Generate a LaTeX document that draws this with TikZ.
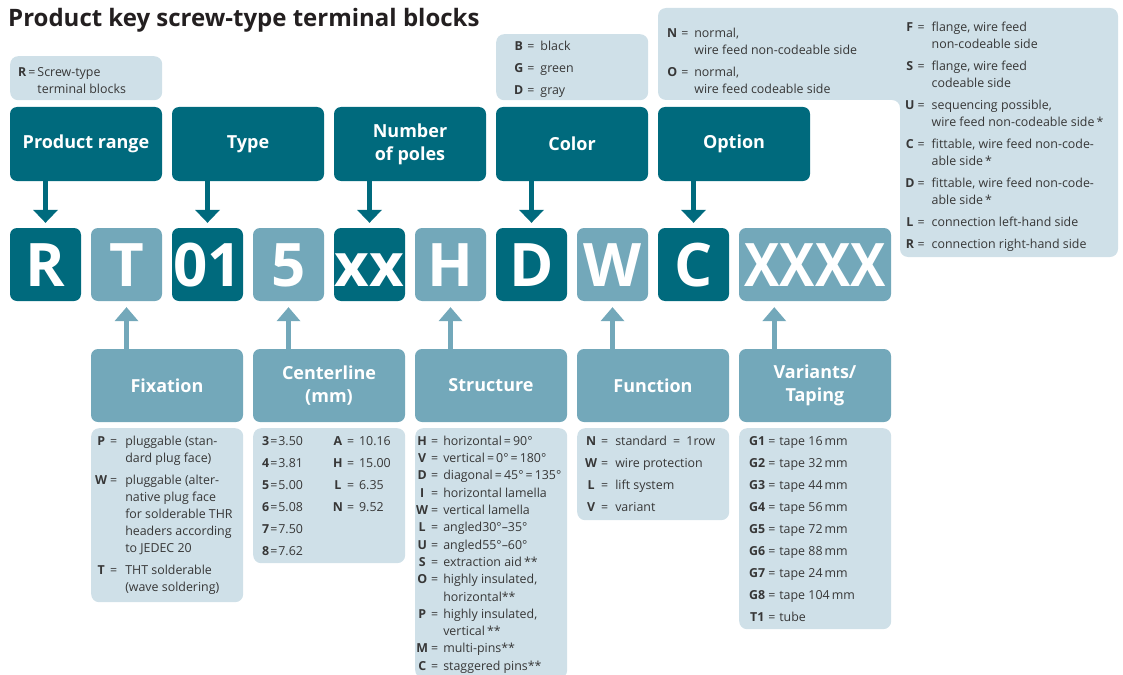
\documentclass[tikz,border=0pt]{standalone}
\usepackage{fontspec}
\setmainfont{Open Sans}
\usepackage{array}
\usepackage{xcolor}
\usetikzlibrary{arrows.meta, positioning}

\definecolor{keydark}{RGB}{0,106,125}
\definecolor{keymid}{RGB}{115,168,186}
\definecolor{keylight}{RGB}{207,224,232}
\definecolor{keytext}{RGB}{55,55,55}
\definecolor{titlegray}{RGB}{35,31,32}

% key | = | meaning, with the two gaps as arguments
\newcommand{\keytab}[3]{%
  \begin{tabular}[t]{@{}>{\bfseries}c@{\hspace{#1}}c@{\hspace{#2}}l@{}}#3\end{tabular}}
% height, width, top pad, left pad, table
\newcommand{\descbody}[5]{%
  \parbox[c][#1][t]{#2}{\vspace*{#3}\hspace*{#4}#5}}

\begin{document}
\begin{tikzpicture}[x=1pt, y=-1pt,
  hd/.style={fill=keydark, text=white, rounded corners=7pt, minimum width=152pt,
    minimum height=74pt, inner sep=0pt, align=center,
    font=\fontsize{18}{23}\selectfont\bfseries},
  subhd/.style={hd, fill=keymid, minimum height=73pt},
  letter/.style={fill=keydark, text=white, rounded corners=7pt, minimum width=71pt,
    minimum height=73pt, inner sep=0pt, text height=43pt, text depth=0pt,
    font=\fontsize{60}{60}\selectfont\bfseries},
  letterlt/.style={letter, fill=keymid},
  desc/.style={fill=keylight, text=keytext, rounded corners=8pt, inner sep=0pt,
    anchor=north west, font=\fontsize{12.4}{17}\selectfont},
  desctext/.style={text=keytext, inner sep=0pt, anchor=north west,
    font=\fontsize{12.4}{17}\selectfont},
  downarr/.style={draw=keydark, line width=5pt,
    -{Triangle[width=25pt, length=13pt, line width=0pt]}, shorten >=5pt},
  uparr/.style={draw=keymid, line width=5pt,
    -{Triangle[width=24pt, length=14pt, line width=0pt]}, shorten >=6pt}]
  \useasboundingbox (0,0) rectangle (1123,674);

  % Title
  \node[anchor=base west, inner sep=0pt, text=titlegray,
    font=\fontsize{24}{28}\selectfont\bfseries] (title) at (8,27)
    {Product key screw-type terminal blocks};

  % Option / top right legend
  \fill[keylight, rounded corners=8pt] (658,8) -- (1118,8) -- (1118,257)
    -- (900,257) -- (900,100) -- (658,100) -- cycle;
  \node[desctext] (optN) at (667,25) {\keytab{4pt}{6pt}{%
    N & = & normal,\\ & & wire feed non-codeable side\\[5pt]
    O & = & normal,\\ & & wire feed codeable side}};
  \node[desctext] (optF) at (905,19) {\keytab{3pt}{7pt}{%
    F & = & flange, wire feed\\ & & non-codeable side\\[5pt]
    S & = & flange, wire feed\\ & & codeable side\\[5pt]
    U & = & sequencing possible,\\ & & wire feed non-codeable side\,*\\[5pt]
    C & = & fittable, wire feed non-code-\\ & & able side\,*\\[5pt]
    D & = & fittable, wire feed non-code-\\ & & able side\,*\\[5pt]
    L & = & connection left-hand side\\[5pt]
    R & = & connection right-hand side}};

  % Top legends
  \node[desc] (Rd) at (10,56) {\descbody{44pt}{152pt}{8pt}{8pt}{\keytab{2pt}{2pt}{%
    R & = & Screw-type\\ & & terminal blocks}}};
  \node[desc] (colord) at (496,34) {\descbody{66pt}{152pt}{4pt}{18pt}{\keytab{4pt}{6pt}{%
    B & = & black\\[5pt] G & = & green\\[5pt] D & = & gray}}};

  % Headers
  \node[hd] (prodhd) at (86,144) {Product range};
  \node[hd] (typehd) at (248,144) {Type};
  \node[hd] (poleshd) at (410,144) {Number\\of poles};
  \node[hd] (colorhd) at (572,144) {Color};
  \node[hd] (opthd) at (734,144) {Option};

  % Product key
  \node[letter] (kR) at (45.5,264.5) {R};
  \node[letterlt] (kT) at (126.5,264.5) {T};
  \node[letter] (k01) at (207.5,264.5) {01};
  \node[letterlt] (k5) at (288.5,264.5) {5};
  \node[letter] (kxx) at (369.5,264.5) {xx};
  \node[letterlt] (kH) at (450.5,264.5) {H};
  \node[letter] (kD) at (531.5,264.5) {D};
  \node[letterlt] (kW) at (612.5,264.5) {W};
  \node[letter] (kC) at (693.5,264.5) {C};
  \node[letterlt, minimum width=152pt] (kX) at (815,264.5) {\scalebox{0.88}[1]{XXXX}};

  % Lower headers
  \node[subhd] (fixhd) at (167,385.5) {Fixation};
  \node[subhd] (centhd) at (329,385.5) {Centerline\\(mm)};
  \node[subhd] (struchd) at (491,385.5) {Structure};
  \node[subhd] (funchd) at (653,385.5) {Function};
  \node[subhd] (varhd) at (815,385.5) {Variants/\\Taping};

  % Arrows
  \draw[downarr] (kR.north |- prodhd.south) -- (kR.north);
  \draw[downarr] (k01.north |- typehd.south) -- (k01.north);
  \draw[downarr] (kxx.north |- poleshd.south) -- (kxx.north);
  \draw[downarr] (kD.north |- colorhd.south) -- (kD.north);
  \draw[downarr] (kC.north |- opthd.south) -- (kC.north);
  \coordinate (kXfoot) at ([xshift=35.5pt]kX.south west);
  \draw[uparr] (kT.south |- fixhd.north) -- (kT.south);
  \draw[uparr] (k5.south |- centhd.north) -- (k5.south);
  \draw[uparr] (kH.south |- struchd.north) -- (kH.south);
  \draw[uparr] (kW.south |- funchd.north) -- (kW.south);
  \draw[uparr] (kXfoot |- varhd.north) -- (kXfoot);

  % Lower legends
  \node[desc] (fixd) at (91,428) {\descbody{174pt}{152pt}{5pt}{4pt}{\keytab{3pt}{8pt}{%
    P & = & pluggable (stan-\\ & & dard plug face)\\[5pt]
    W & = & pluggable (alter-\\ & & native plug face\\ & & for solderable THR\\
      & & headers according\\ & & to JEDEC 20\\[5pt]
    T & = & THT solderable\\ & & (wave soldering)}}};
  \node[desc] (centd) at (253,428) {\descbody{135pt}{152pt}{5pt}{9pt}{%
    \begin{tabular}[t]{@{}>{\bfseries}c@{\hspace{1pt}}c@{\hspace{1pt}}l@{\hspace{30pt}}%
      >{\bfseries}c@{\hspace{4pt}}c@{\hspace{5pt}}l@{}}
    3 & = & 3.50 & A & = & 10.16\\[5pt]
    4 & = & 3.81 & H & = & 15.00\\[5pt]
    5 & = & 5.00 & L & = & 6.35\\[5pt]
    6 & = & 5.08 & N & = & 9.52\\[5pt]
    7 & = & 7.50 & & & \\[5pt]
    8 & = & 7.62 & & &
    \end{tabular}}};
  \node[desc, font=\fontsize{12.4}{17.3}\selectfont] (strucd) at (415,428)
    {\descbody{250pt}{152pt}{5pt}{1pt}{\keytab{3pt}{5pt}{%
    H & = & horizontal\,=\,90°\\
    V & = & vertical\,=\,0°\,=\,180°\\
    D & = & diagonal\,=\,45°\,=\,135°\\
    I & = & horizontal lamella\\
    W & = & vertical lamella\\
    L & = & angled30°–35°\\
    U & = & angled55°–60°\\
    S & = & extraction aid\,**\\
    O & = & highly insulated,\\ & & horizontal**\\
    P & = & highly insulated,\\ & & vertical\,**\\
    M & = & multi-pins**\\
    C & = & staggered pins**}}};
  \node[desc] (funcd) at (577,428) {\descbody{92pt}{152pt}{5pt}{8pt}{\keytab{4pt}{7pt}{%
    N & = & standard\enspace=\enspace1row\\[5pt]
    W & = & wire protection\\[5pt]
    L & = & lift system\\[5pt]
    V & = & variant}}};
  \node[desc] (vard) at (739,428) {\descbody{201pt}{152pt}{5pt}{10pt}{\keytab{3pt}{4pt}{%
    G1 & = & tape 16\,mm\\[5pt]
    G2 & = & tape 32\,mm\\[5pt]
    G3 & = & tape 44\,mm\\[5pt]
    G4 & = & tape 56\,mm\\[5pt]
    G5 & = & tape 72\,mm\\[5pt]
    G6 & = & tape 88\,mm\\[5pt]
    G7 & = & tape 24\,mm\\[5pt]
    G8 & = & tape 104\,mm\\[5pt]
    T1 & = & tube}}};
\end{tikzpicture}
\end{document}
